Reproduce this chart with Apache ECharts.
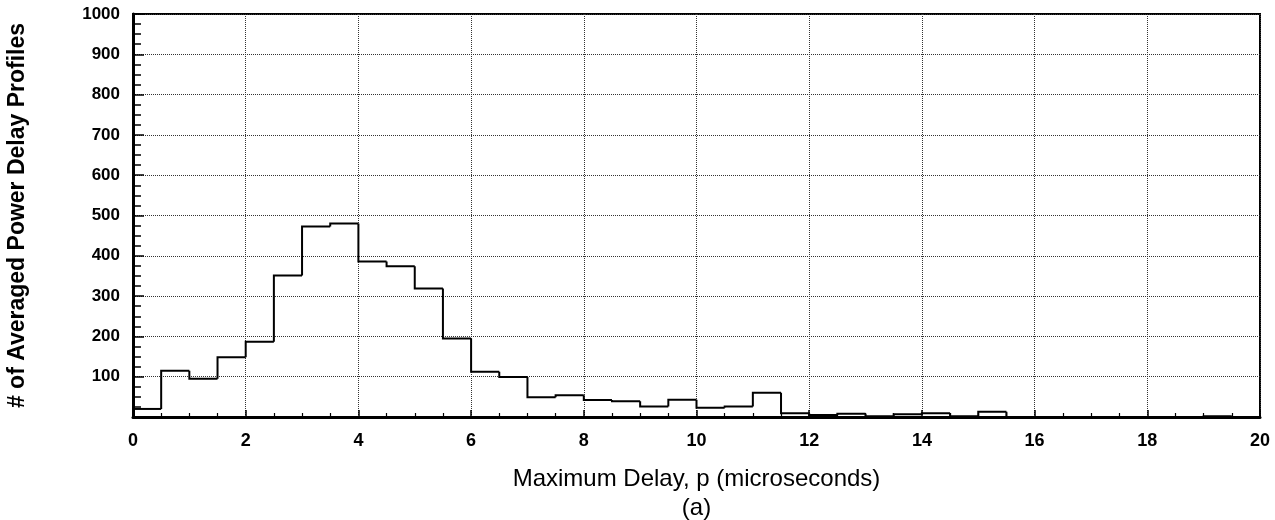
<!DOCTYPE html>
<html>
<head>
<meta charset="utf-8">
<script src="https://cdn.jsdelivr.net/npm/echarts@6/dist/echarts.min.js"></script>
<style>html,body{margin:0;padding:0;background:#fff}#c{width:1275px;height:520px}</style>
</head>
<body>
<div id="c"></div>
<script>
const binStarts = [0,0.5,1,1.5,2,2.5,3,3.5,4,4.5,5,5.5,6,6.5,7,7.5,8,8.5,9,9.5,10,10.5,11,11.5,12,12.5,13,13.5,14,14.5,15,15.5,16,16.5,17,17.5,18,18.5,19,19.5];
const binWidth = 0.5;
const counts = [20,115,95,148,187,351,473,480,386,374,319,195,112,99,49,54,42,39,26,43,23,26,60,9,5,8,2,7,9,2,13,0,0,0,0,0,0,0,2,0];
const xTicks = [0,2,4,6,8,10,12,14,16,18,20];
const yTicks = [100,200,300,400,500,600,700,800,900,1000];
const xTitle = 'Maximum Delay, p (microseconds)';
const subLabel = '(a)';
const yTitle = '# of Averaged Power Delay Profiles';

const binData = binStarts.map((x,i)=>[x, x+binWidth, counts[i], i>0?counts[i-1]:counts[i]]);

const chart = echarts.init(document.getElementById('c'));
const font = 'Liberation Sans, Arial, sans-serif';
chart.setOption({
  animation:false,
  backgroundColor:'#fff',
  grid:{left:133,right:15,top:14,bottom:103,show:true,borderColor:'#000',borderWidth:2,backgroundColor:'transparent',
    outerBoundsMode:'none',containLabel:false},
  xAxis:{
    type:'value',min:0,max:20,interval:2,
    axisLine:{show:true,onZero:false,lineStyle:{color:'#000',width:3}},
    axisTick:{show:true,inside:true,length:7,lineStyle:{color:'#000',width:1.5}},
    minorTick:{show:true,splitNumber:4,length:4,lineStyle:{color:'#000',width:1.2}},
    splitLine:{show:true,lineStyle:{color:'#333',type:'dotted',width:1}},
    axisLabel:{color:'#000',fontFamily:font,fontWeight:'bold',fontSize:18,margin:15,
      formatter:v=>xTicks.includes(v)?String(v):''},
    name:xTitle+'\n'+subLabel,nameLocation:'middle',nameGap:48,
    nameTextStyle:{color:'#000',fontFamily:font,fontSize:24,lineHeight:29,align:'center'}
  },
  yAxis:{
    type:'value',min:0,max:1000,interval:100,
    axisLine:{show:true,lineStyle:{color:'#000',width:3}},
    axisTick:{show:true,inside:true,length:11,lineStyle:{color:'#000',width:1.5}},
    minorTick:{show:true,splitNumber:4,length:8,lineStyle:{color:'#000',width:1.5}},
    splitLine:{show:true,lineStyle:{color:'#333',type:'dotted',width:1}},
    axisLabel:{color:'#000',fontFamily:font,fontWeight:'bold',fontSize:17,margin:13,
      formatter:v=>yTicks.includes(v)?String(v):''},
    name:yTitle,nameLocation:'middle',nameGap:104,nameRotate:90,
    nameTextStyle:{color:'#000',fontFamily:font,fontWeight:'bold',fontSize:23}
  },
  series:[{
    type:'custom',data:binData,clip:false,
    encode:{x:[0,1],y:[2,3]},
    renderItem:function(params,api){
      const s=api.value(0), e=api.value(1), v=api.value(2), p=api.value(3);
      const a=api.coord([s,p]), b=api.coord([s,v]), c=api.coord([e,v]);
      return {type:'polyline',shape:{points:[a,b,c]},
        style:{stroke:'#000',lineWidth:2,fill:null,lineJoin:'miter'}};
    }
  }]
});
</script>
</body>
</html>
